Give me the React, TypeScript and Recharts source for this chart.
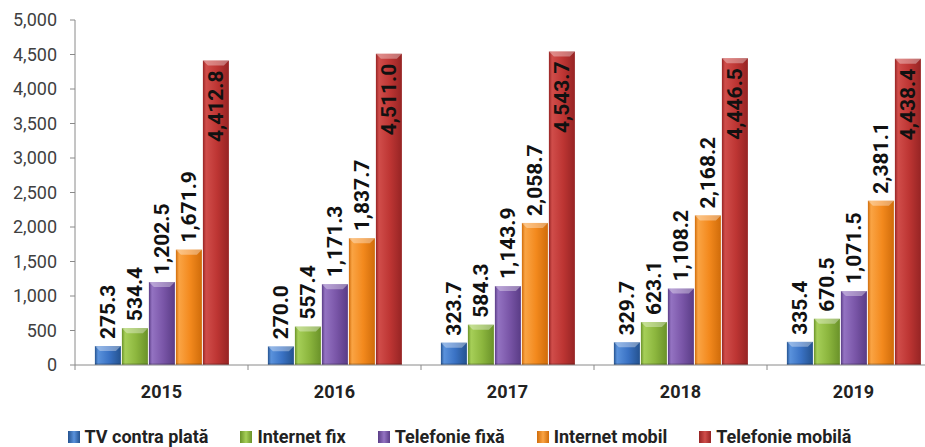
import React from 'react'
import { BarChart, Bar, XAxis, YAxis, Legend, LabelList } from 'recharts'

const years = ['2015', '2016', '2017', '2018', '2019']
const tvContraPlata = [275.3, 270.0, 323.7, 329.7, 335.4]
const internetFix = [534.4, 557.4, 584.3, 623.1, 670.5]
const telefonieFixa = [1202.5, 1171.3, 1143.9, 1108.2, 1071.5]
const internetMobil = [1671.9, 1837.7, 2058.7, 2168.2, 2381.1]
const telefonieMobila = [4412.8, 4511.0, 4543.7, 4446.5, 4438.4]
const yTicks = [0, 500, 1000, 1500, 2000, 2500, 3000, 3500, 4000, 4500, 5000]

const series = [
  { key: 'tv', name: 'TV contra plată', values: tvContraPlata, base: '#3a72c4', light: '#5a92dc', dark: '#24528f' },
  { key: 'inetFix', name: 'Internet fix', values: internetFix, base: '#8cb63e', light: '#a6cf58', dark: '#6a9229' },
  { key: 'telFix', name: 'Telefonie fixă', values: telefonieFixa, base: '#7a56a8', light: '#9473c2', dark: '#5a3c86' },
  { key: 'inetMob', name: 'Internet mobil', values: internetMobil, base: '#f3891d', light: '#faa444', dark: '#d06c0a' },
  { key: 'telMob', name: 'Telefonie mobilă', values: telefonieMobila, base: '#bd3533', light: '#d04d4a', dark: '#962424' },
]

const data = years.map((year, i) => {
  const row: any = { year }
  series.forEach((s) => (row[s.key] = s.values[i]))
  return row
})

const CHART_W = 950
const CHART_H = 447
const MARGIN = { top: 20, right: 10, left: 0, bottom: 0 }
const Y_AXIS_W = 75
const BAND = (CHART_W - MARGIN.left - MARGIN.right - Y_AXIS_W) / years.length

const AXIS_COLOR = '#8a8a8a'
const FONT = 'Roboto, "Noto Sans", sans-serif'

const fmt = (v: number, digits: number) =>
  v.toLocaleString('en-US', { minimumFractionDigits: digits, maximumFractionDigits: digits })

const BevelBar = (props: any) => {
  const { x, y, width, height, gradId } = props
  if (!height || height <= 0) return null
  const b = Math.min(5, height / 2, width / 4)
  return (
    <g>
      <rect x={x} y={y} width={width} height={height} fill={`url(#${gradId})`} />
      <polygon
        points={`${x},${y} ${x + width},${y} ${x + width - b},${y + b} ${x + b},${y + b}`}
        fill="#ffffff"
        fillOpacity={0.35}
      />
      <rect x={x} y={y + height - 2} width={width} height={2} fill="#000" fillOpacity={0.12} />
    </g>
  )
}

const makeLabel = (inside: boolean) => (props: any) => {
  const { x, y, width, value } = props
  const cx = x + width / 2
  const ay = inside ? y + 10 : y - 7
  return (
    <text
      x={cx}
      y={ay}
      transform={`rotate(-90 ${cx} ${ay})`}
      textAnchor={inside ? 'end' : 'start'}
      dominantBaseline="central"
      fontFamily={FONT}
      fontWeight="bold"
      fontSize={21}
      fill="#111"
    >
      {fmt(value, 1)}
    </text>
  )
}

const YearTick = (props: any) => {
  const { x, y, payload, index } = props
  const axisY = y - 8
  return (
    <g>
      <line x1={x - BAND / 2} y1={axisY} x2={x - BAND / 2} y2={axisY + 5} stroke={AXIS_COLOR} />
      {index === years.length - 1 && (
        <line x1={x + BAND / 2} y1={axisY} x2={x + BAND / 2} y2={axisY + 5} stroke={AXIS_COLOR} />
      )}
      <text x={x} y={y + 25} textAnchor="middle" fontFamily={FONT} fontWeight="bold" fontSize={18} fill="#222">
        {payload.value}
      </text>
    </g>
  )
}

const LegendContent = () => (
  <div
    style={{
      display: 'flex',
      justifyContent: 'center',
      alignItems: 'center',
      height: 30,
      paddingTop: 10,
      paddingRight: 6,
      boxSizing: 'border-box',
      fontFamily: FONT,
      fontWeight: 'bold',
      fontSize: 18,
      lineHeight: '20px',
      color: '#222',
    }}
  >
    {series.map((s) => (
      <div key={s.key} style={{ display: 'flex', alignItems: 'center', margin: '0 16px' }}>
        <span
          style={{
            display: 'inline-block',
            width: 12,
            height: 12,
            marginRight: 5,
            background: `linear-gradient(to right, ${s.dark}, ${s.light}, ${s.dark})`,
          }}
        />
        <span>{s.name}</span>
      </div>
    ))}
  </div>
)

export default function App() {
  return (
    <div style={{ position: 'absolute', left: 0, top: 0, width: 925, height: 447, overflow: 'hidden', background: '#fff' }}>
      <BarChart
        width={CHART_W}
        height={CHART_H}
        data={data}
        margin={MARGIN}
        barCategoryGap="11.5%"
        barGap={1}
      >
        <defs>
          {series.map((s) => (
            <linearGradient key={s.key} id={`grad-${s.key}`} x1="0" y1="0" x2="1" y2="0">
              <stop offset="0%" stopColor={s.dark} />
              <stop offset="12%" stopColor={s.light} />
              <stop offset="55%" stopColor={s.base} />
              <stop offset="100%" stopColor={s.dark} />
            </linearGradient>
          ))}
        </defs>
        <XAxis
          dataKey="year"
          height={52}
          stroke={AXIS_COLOR}
          tickLine={false}
          tick={<YearTick />}
          interval={0}
        />
        <YAxis
          width={Y_AXIS_W}
          domain={[0, 5000]}
          ticks={yTicks}
          interval={0}
          stroke={AXIS_COLOR}
          tickSize={5}
          tickMargin={13}
          tick={{ fontFamily: FONT, fontSize: 18, fill: '#404040' }}
          tickFormatter={(v: number) => fmt(v, 0)}
        />
        <Legend
          verticalAlign="bottom"
          height={30}
          wrapperStyle={{ left: 0, width: 925 }}
          content={<LegendContent />}
        />
        {series.map((s, i) => (
          <Bar
            key={s.key}
            dataKey={s.key}
            name={s.name}
            fill={s.base}
            isAnimationActive={false}
            shape={(p: any) => <BevelBar {...p} gradId={`grad-${s.key}`} />}
          >
            <LabelList dataKey={s.key} content={makeLabel(i === series.length - 1)} />
          </Bar>
        ))}
      </BarChart>
    </div>
  )
}
